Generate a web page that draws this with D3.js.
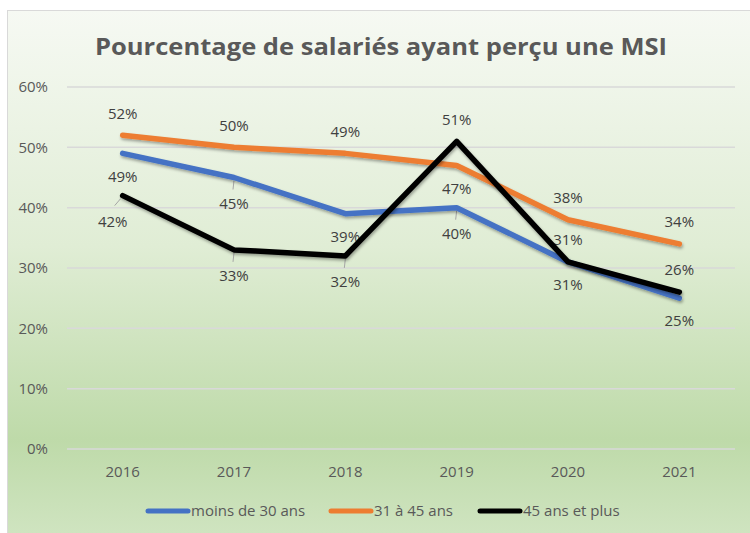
<!DOCTYPE html>
<meta charset="utf-8">
<script src="https://d3js.org/d3.v7.min.js"></script>
<style>
  body { margin: 0; background: #fff; }
  text { font-family: "Open Sans", Lato, sans-serif; }
</style>
<div id="chart"></div>
<script>
// data
var years = ["2016", "2017", "2018", "2019", "2020", "2021"];
var moins30 = [49, 45, 39, 40, 31, 25];
var de31a45 = [52, 50, 49, 47, 38, 34];
var plus45 = [42, 33, 32, 51, 31, 26];
var yTicks = [0, 10, 20, 30, 40, 50, 60];
var seriesNames = ["moins de 30 ans", "31 à 45 ans", "45 ans et plus"];
var colors = ["#4472c4", "#ed7d31", "#000000"];

// where each data label sits relative to its point
var labelPlace = [
  ["below", "belowLead", "below", "belowLead", "below", "below"],
  ["above", "above", "above", "below", "above", "above"],
  ["belowLeft", "belowLead", "belowLead", "above", "above", "above"]
];

var W = 750, H = 533;
var margin = {top: 87, right: 15, bottom: 84, left: 67};

var svg = d3.select("#chart").append("svg")
    .attr("width", W)
    .attr("height", H);

var defs = svg.append("defs");
var grad = defs.append("linearGradient")
    .attr("id", "bg")
    .attr("x1", 0).attr("y1", 0).attr("x2", 0).attr("y2", 1);
grad.append("stop").attr("offset", "0%").attr("stop-color", "#f6f9f3");
grad.append("stop").attr("offset", "45%").attr("stop-color", "#e0edd5");
grad.append("stop").attr("offset", "82%").attr("stop-color", "#bedaa9");
grad.append("stop").attr("offset", "100%").attr("stop-color", "#cfe4c0");

var shadow = defs.append("filter").attr("id", "shadow")
    .attr("x", "-10%").attr("y", "-10%").attr("width", "120%").attr("height", "130%");
shadow.append("feDropShadow")
    .attr("dx", 1).attr("dy", 2).attr("stdDeviation", 1.5)
    .attr("flood-color", "#000").attr("flood-opacity", 0.35);

svg.append("rect")
    .attr("x", 7.5).attr("y", 10.5)
    .attr("width", W - 6).attr("height", H - 10)
    .attr("fill", "url(#bg)")
    .attr("stroke", "#d9d9d9");

svg.append("text")
    .attr("x", 381).attr("y", 55)
    .attr("text-anchor", "middle")
    .style("font-size", "24px")
    .style("font-weight", "bold")
    .style("fill", "#595959")
    .attr("textLength", 572)
    .attr("lengthAdjust", "spacingAndGlyphs")
    .text("Pourcentage de salariés ayant perçu une MSI");

var x = d3.scaleBand()
    .domain(years)
    .range([margin.left, W - margin.right]);

var y = d3.scaleLinear()
    .domain([0, 60])
    .range([H - margin.bottom, margin.top]);

// gridlines
svg.append("g")
  .selectAll("line")
  .data(yTicks)
  .enter().append("line")
    .attr("x1", margin.left).attr("x2", W - margin.right)
    .attr("y1", function(d) { return y(d); })
    .attr("y2", function(d) { return y(d); })
    .attr("stroke", "#d9d9d9")
    .attr("stroke-width", 1.5);

// y axis
var yAxis = svg.append("g")
    .attr("transform", "translate(" + (margin.left - 16) + ",0)")
    .call(d3.axisLeft(y).tickValues(yTicks).tickSize(0).tickFormat(function(d) { return d + "%"; }));
yAxis.select(".domain").remove();

// x axis
var xAxis = svg.append("g")
    .attr("transform", "translate(0," + (H - margin.bottom + 14) + ")")
    .call(d3.axisBottom(x).tickSize(0));
xAxis.select(".domain").remove();

svg.selectAll(".tick text")
    .style("font-family", "\"Open Sans\", sans-serif")
    .style("font-size", "15px")
    .style("fill", "#595959");

var allSeries = [moins30, de31a45, plus45];
var cx = function(i) { return x(years[i]) + x.bandwidth() / 2; };

var line = d3.line()
    .x(function(d, i) { return cx(i); })
    .y(function(d) { return y(d); });

// data labels + leader lines go under the lines
var offsets = {
  above: [0, -22],
  below: [0, 23],
  belowLead: [0, 26],
  belowLeft: [-10, 26]
};
var labels = svg.append("g");

allSeries.forEach(function(s, k) {
  svg.append("path")
    .datum(s)
    .attr("d", line)
    .attr("fill", "none")
    .attr("stroke", colors[k])
    .attr("stroke-width", 5.5)
    .attr("stroke-linejoin", "round")
    .attr("stroke-linecap", "round")
    .attr("filter", "url(#shadow)");
});

allSeries.forEach(function(s, k) {
  s.forEach(function(v, i) {
    var place = labelPlace[k][i];
    var o = offsets[place];
    var px = cx(i), py = y(v);
    if (place === "belowLead") {
      labels.append("line")
        .attr("x1", px).attr("y1", py + 3)
        .attr("x2", px - 1).attr("y2", py + 12)
        .attr("stroke", "#a6a6a6").attr("stroke-width", 1);
    }
    if (place === "belowLeft") {
      labels.append("line")
        .attr("x1", px - 2).attr("y1", py + 3)
        .attr("x2", px - 8).attr("y2", py + 10)
        .attr("stroke", "#a6a6a6").attr("stroke-width", 1);
    }
    labels.append("text")
      .attr("x", px + o[0])
      .attr("y", py + o[1])
      .attr("dy", "0.35em")
      .attr("text-anchor", "middle")
      .style("font-size", "15px")
      .style("fill", "#404040")
      .text(v + "%");
  });
});

// legend
var legendX = [148, 331, 480];
seriesNames.forEach(function(n, k) {
  var g = svg.append("g").attr("transform", "translate(" + legendX[k] + ",511)");
  g.append("line")
    .attr("x1", 0).attr("x2", 40)
    .attr("stroke", colors[k])
    .attr("stroke-width", 5)
    .attr("stroke-linecap", "round");
  g.append("text")
    .attr("x", 43)
    .attr("dy", "0.35em")
    .style("font-size", "15px")
    .style("fill", "#595959")
    .text(n);
});
</script>
